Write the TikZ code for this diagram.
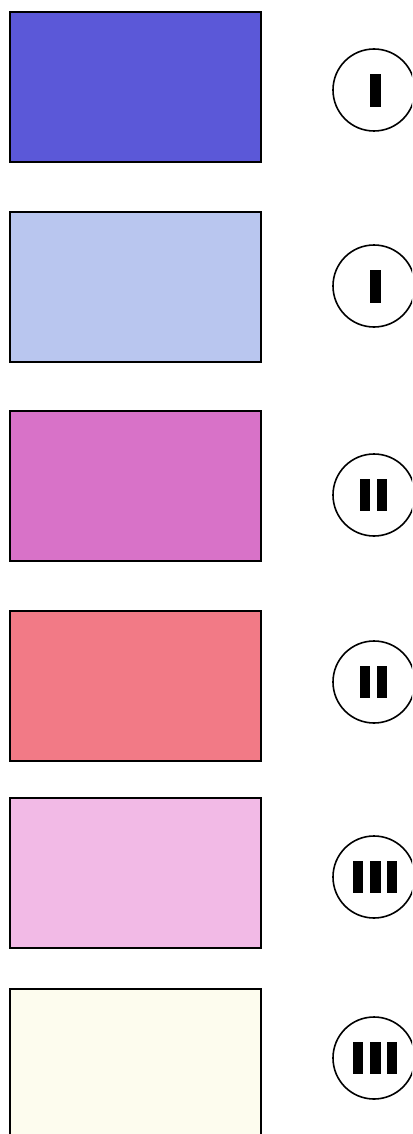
\documentclass[tikz,border=0pt]{standalone}
\begin{document}
\begin{tikzpicture}[x=1pt,y=-1pt,
  swatch/.style={draw=black,line width=1.8pt,minimum width=251pt,minimum height=150pt,inner sep=0pt,anchor=north west},
  badge/.style={draw=black,line width=1.6pt,circle,minimum size=82pt,inner sep=0pt},
  bar/.style={fill=black,draw=none}]
\clip (0,0) rectangle (412,1134);
\fill[white] (0,0) rectangle (412,1134);
\definecolor{cA}{HTML}{5B58D8}
\definecolor{cB}{HTML}{B9C6EF}
\definecolor{cC}{HTML}{D872C8}
\definecolor{cD}{HTML}{F27A86}
\definecolor{cE}{HTML}{F2BAE6}
\definecolor{cF}{HTML}{FDFCEE}
\node[swatch,fill=cA] (r1) at (9,11) {};
\node[swatch,fill=cB] (r2) at (9,211) {};
\node[swatch,fill=cC] (r3) at (9,410) {};
\node[swatch,fill=cD] (r4) at (9,610) {};
\node[swatch,fill=cE] (r5) at (9,797) {};
\node[swatch,fill=cF] (r6) at (9,988) {};
\node[badge] (c1) at (374,90) {};
\node[badge] (c2) at (374,286) {};
\node[badge] (c3) at (374,495) {};
\node[badge] (c4) at (374,682) {};
\node[badge] (c5) at (374,877) {};
\node[badge] (c6) at (374,1058) {};
% I
\fill[bar] ([shift={(-4,-16)}]c1.center) rectangle ([shift={(7,17)}]c1.center);
\fill[bar] ([shift={(-4,-16)}]c2.center) rectangle ([shift={(7,17)}]c2.center);
% II
\foreach \c in {c3,c4}{
  \fill[bar] ([shift={(-14,-16)}]\c.center) rectangle ([shift={(-4,16)}]\c.center);
  \fill[bar] ([shift={(3,-16)}]\c.center) rectangle ([shift={(13,16)}]\c.center);
}
% III
\foreach \c in {c5,c6}{
  \fill[bar] ([shift={(-21,-16)}]\c.center) rectangle ([shift={(-11,16)}]\c.center);
  \fill[bar] ([shift={(-4,-16)}]\c.center) rectangle ([shift={(7,16)}]\c.center);
  \fill[bar] ([shift={(13,-16)}]\c.center) rectangle ([shift={(23,16)}]\c.center);
}
\end{tikzpicture}
\end{document}
